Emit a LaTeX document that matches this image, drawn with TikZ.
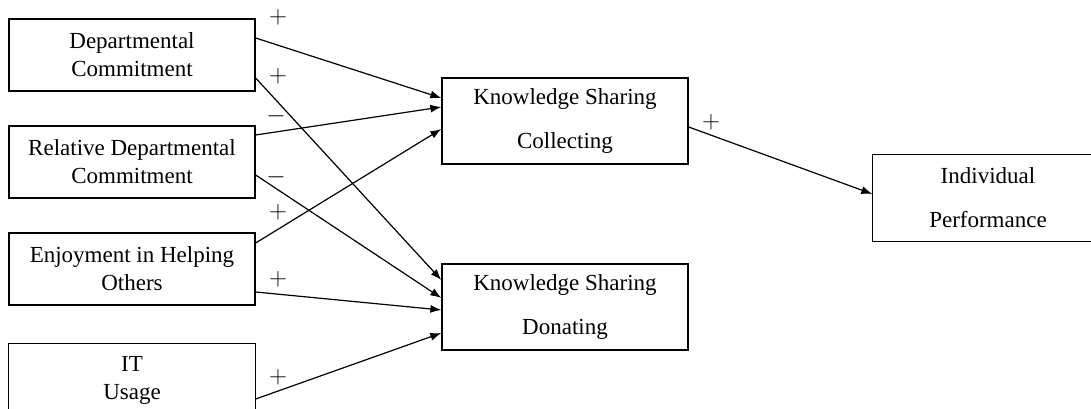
\documentclass[tikz,border=0pt]{standalone}
\usepackage{fontspec}
\setmainfont{Liberation Serif}
\usepackage{tikz}
\usetikzlibrary{positioning, arrows.meta}

\begin{document}
\begin{tikzpicture}[x=1pt, y=-1pt, >={Latex[length=11pt, width=8pt]},
    factor/.style={draw, line width=1.3pt, minimum width=246pt, minimum height=72pt,
        inner sep=0pt, align=center, font=\fontsize{23}{28}\selectfont},
    outcome/.style={factor, minimum height=86pt, font=\fontsize{23}{44}\selectfont},
    cutbox/.style={line width=1.3pt},
    sign/.style={inner sep=0pt, font=\fontsize{23}{28}\selectfont},
    link/.style={->, line width=1.2pt}]
    % Frame of the picture (the last boxes run past its edges)
    \useasboundingbox (0,0) rectangle (1091,409);
    \clip (0,0) rectangle (1091,409);

    % Antecedents on the left
    \node[factor] (dc)  at (132,55)  {Departmental\\Commitment};
    \node[factor] (rdc) at (132,162) {Relative Departmental\\Commitment};
    \node[factor] (eho) at (132,269) {Enjoyment in Helping\\Others};
    \node[factor, draw=none] (itu) at (132,380) {IT\\Usage};
    \draw[cutbox] (itu.south west) -- (itu.north west) -- (itu.north east) -- (itu.south east);

    % Knowledge sharing and performance
    \node[outcome] (ksc) at (565,121) {Knowledge Sharing\\Collecting};
    \node[outcome] (ksd) at (565,307) {Knowledge Sharing\\Donating};
    \node[outcome, draw=none, minimum width=230pt] (ip) at (988,198) {Individual\\Performance};
    \draw[cutbox] (ip.north east) -- (ip.north west) -- (ip.south west) -- (ip.south east);

    % Paths into collecting
    \draw[link] ([yshift=17pt]dc.east)  -- ([yshift=23pt]ksc.west);
    \draw[link] ([yshift=27pt]rdc.east) -- ([yshift=14pt]ksc.west);
    \draw[link] ([yshift=26pt]eho.east) -- ([yshift=-8pt]ksc.west);

    % Paths into donating
    \draw[link] ([yshift=-23pt]dc.east)  -- ([yshift=27pt]ksd.west);
    \draw[link] ([yshift=-13pt]rdc.east) -- ([yshift=9pt]ksd.west);
    \draw[link] ([yshift=-23pt]eho.east) -- ([yshift=-3pt]ksd.west);
    \draw[link] ([yshift=-19pt]itu.east) -- ([yshift=-26pt]ksd.west);

    % Collecting to performance
    \draw[link] ([yshift=-6pt]ksc.east) -- ([yshift=4pt]ip.west);

    % Signs of the paths
    \node[sign] (s1) at (278,17)  {$+$};
    \node[sign] (s2) at (278,76)  {$+$};
    \node[sign] (s3) at (276,116) {$-$};
    \node[sign] (s4) at (276,177) {$-$};
    \node[sign] (s5) at (278,212) {$+$};
    \node[sign] (s6) at (278,279) {$+$};
    \node[sign] (s7) at (278,377) {$+$};
    \node[sign] (s8) at (711,122) {$+$};
\end{tikzpicture}
\end{document}
